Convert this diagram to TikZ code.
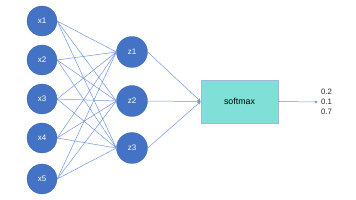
\documentclass[tikz,border=0pt]{standalone}
\usepackage{fontspec}
\setmainfont{Liberation Sans}
\usetikzlibrary{arrows.meta}
\definecolor{nodeblue}{HTML}{4472C4}
\definecolor{edgeblue}{HTML}{7395E0}
\definecolor{softteal}{HTML}{80E0D8}
\definecolor{boxedge}{HTML}{9FB8E0}
\begin{document}
\begin{tikzpicture}[x=1pt,y=-1pt,
  neuron/.style={circle,fill=nodeblue,draw=nodeblue!90!black,line width=0.3pt,minimum size=30pt,inner sep=0pt,text=white,font=\fontsize{8}{9}\selectfont},
  conn/.style={draw=edgeblue,line width=0.5pt},
  smbox/.style={rectangle,fill=softteal,draw=boxedge,line width=0.6pt,minimum width=77pt,minimum height=43pt,inner sep=0pt,font=\fontsize{8.8}{10}\selectfont},
  outtxt/.style={font=\fontsize{7.8}{10}\selectfont,align=left,inner sep=0pt,anchor=west,text=black!85}
]
\useasboundingbox (0,0) rectangle (356,200);
\node[neuron] (x1) at (42,21) {x1};
\node[neuron] (x2) at (42,60) {x2};
\node[neuron] (x3) at (42,99) {x3};
\node[neuron] (x4) at (42,138) {x4};
\node[neuron] (x5) at (42,179) {x5};
\node[neuron,minimum size=31pt] (z1) at (132,52) {z1};
\node[neuron,minimum size=31pt] (z2) at (132,101) {z2};
\node[neuron,minimum size=31pt] (z3) at (132,148) {z3};
\node[smbox] (sm) at (239.5,101.5) {softmax};
\node[outtxt] (out) at (321,102) {0.2\\0.1\\0.7};
\foreach \i in {1,...,5}{
  \foreach \j in {1,2,3}{
    \draw[conn] (x\i.east) -- (z\j.west);
  }
}
\foreach \j in {1,2,3}{
  \draw[conn,-{Stealth[length=3.5pt,width=3pt]}] (z\j.east) -- (sm.west);
}
\draw[conn,-{Stealth[length=3.5pt,width=3pt]}] (sm.east) -- ([xshift=-3pt]out.west);
\end{tikzpicture}
\end{document}
